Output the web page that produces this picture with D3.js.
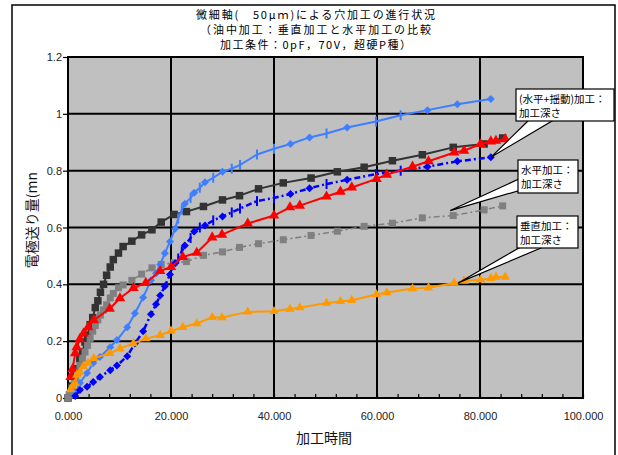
<!DOCTYPE html>
<html>
<head>
<meta charset="utf-8">
<script src="https://cdn.jsdelivr.net/npm/d3@7"></script>
<style>
  html, body { margin: 0; padding: 0; background: #fff; }
  svg { display: block; }
</style>
</head>
<body>
<svg id="chart" width="618" height="455"></svg>
<script>
// ---- Data -------------------------------------------------------------
const titleLines = [
  "微細軸(　50μｍ)による穴加工の進行状況",
  "（油中加工：垂直加工と水平加工の比較",
  "加工条件：0pF，70V，超硬P種）"
];
const xTitle = "加工時間";
const yTitle = "電極送り量(mn";

const xTicks = [0, 20, 40, 60, 80, 100];
const yTicks = [0, 0.2, 0.4, 0.6, 0.8, 1.0, 1.2];

// 垂直加工 (vertical machining)
const timeVert = [0.5, 0.9, 1.4, 1.7, 2.3, 3.0, 3.9, 5.0, 8.1, 10.1, 12.7, 15.1, 17.9, 20.0,
  22.3, 25.0, 28.0, 29.9, 34.9, 40.0, 43.1, 45.0, 50.2, 52.9, 55.1, 59.9, 61.9, 66.9, 70.0,
  75.0, 76.9, 80.1, 82.1, 83.1, 84.9];
const feedVert = [0.074, 0.102, 0.158, 0.179, 0.207, 0.227, 0.249, 0.274, 0.314, 0.351, 0.387,
  0.405, 0.447, 0.461, 0.496, 0.511, 0.565, 0.575, 0.614, 0.642, 0.671, 0.677, 0.709, 0.726,
  0.741, 0.771, 0.786, 0.814, 0.833, 0.864, 0.870, 0.894, 0.903, 0.905, 0.911];
const depthVert = [0.030, 0.042, 0.053, 0.081, 0.091, 0.112, 0.123, 0.140, 0.157, 0.174, 0.192,
  0.209, 0.221, 0.236, 0.249, 0.262, 0.284, 0.283, 0.303, 0.305, 0.313, 0.318, 0.334, 0.340,
  0.344, 0.364, 0.371, 0.385, 0.388, 0.405, 0.412, 0.416, 0.421, 0.426, 0.426];

// 水平加工 (horizontal machining)
const timeHoriz = [0, 0.3, 0.8, 1.3, 1.8, 2.3, 2.8, 3.3, 3.8, 4.3, 4.8, 5.3, 5.8, 6.3, 6.9, 7.5,
  8.2, 8.8, 9.8, 10.7, 12.4, 14.3, 16.3, 18.1, 20.6, 23.0, 26.3, 30.0, 33.3, 37.0, 41.8, 47.2,
  52.3, 57.5, 63.0, 68.8, 74.8, 80.8, 84.4];
const feedHoriz = [0, 0.012, 0.042, 0.078, 0.103, 0.138, 0.162, 0.197, 0.221, 0.258, 0.283,
  0.318, 0.342, 0.372, 0.400, 0.432, 0.461, 0.487, 0.510, 0.533, 0.552, 0.574, 0.592, 0.619,
  0.646, 0.656, 0.674, 0.697, 0.712, 0.736, 0.757, 0.774, 0.796, 0.812, 0.835, 0.856, 0.882,
  0.894, 0.915];
const depthHoriz = [0, 0.010, 0.035, 0.065, 0.090, 0.115, 0.140, 0.162, 0.185, 0.210, 0.235,
  0.255, 0.275, 0.292, 0.310, 0.328, 0.352, 0.368, 0.388, 0.398, 0.414, 0.436, 0.458, 0.470,
  0.476, 0.480, 0.502, 0.514, 0.530, 0.543, 0.557, 0.572, 0.587, 0.604, 0.615, 0.634, 0.642,
  0.662, 0.676];

// (水平+揺動)加工 (horizontal + oscillation machining)
const timeOsc = [1.4, 2.3, 3.7, 4.9, 6.2, 8.2, 9.5, 11.5, 13.0, 14.6, 16.1, 17.1, 17.9, 18.8,
  19.8, 20.8, 21.4, 22.1, 22.7, 23.8, 24.5, 25.6, 26.6, 28.2, 30.0, 31.8, 33.4, 36.7, 40.0,
  43.2, 46.9, 50.2, 54.2, 59.8, 64.6, 69.8, 75.6, 82.1];
const feedOsc = [0.018, 0.053, 0.088, 0.123, 0.144, 0.179, 0.204, 0.249, 0.298, 0.354, 0.414,
  0.439, 0.470, 0.509, 0.551, 0.596, 0.632, 0.663, 0.684, 0.704, 0.722, 0.740, 0.759, 0.775,
  0.796, 0.807, 0.820, 0.857, 0.877, 0.894, 0.917, 0.931, 0.952, 0.973, 0.995, 1.013, 1.034,
  1.052];
const depthOsc = [0.007, 0.028, 0.040, 0.056, 0.074, 0.098, 0.114, 0.147, 0.192, 0.235, 0.295,
  0.330, 0.361, 0.393, 0.435, 0.474, 0.491, 0.516, 0.537, 0.563, 0.586, 0.600, 0.607, 0.625,
  0.639, 0.653, 0.667, 0.693, 0.704, 0.718, 0.738, 0.753, 0.768, 0.788, 0.800, 0.814, 0.833,
  0.847];

const calloutTexts = [
  ["(水平+揺動)加工：", "加工深さ"],
  ["水平加工：", "加工深さ"],
  ["垂直加工：", "加工深さ"]
];

// ---- Drawing ----------------------------------------------------------
const svg = d3.select("#chart");
const plot = { left: 68, right: 583, top: 57, bottom: 398 };

const x = d3.scaleLinear().domain([0, 100]).range([plot.left, plot.right]);
const y = d3.scaleLinear().domain([0, 1.2]).range([plot.bottom, plot.top]);

const cjk = "'Noto Sans CJK JP', 'Noto Sans CJK SC', sans-serif";
const latin = "'Liberation Sans', Arial, sans-serif";

// outer frame
svg.append("rect").attr("x", 12).attr("y", 5).attr("width", 603).attr("height", 460)
  .attr("fill", "#fff").attr("stroke", "#000").attr("stroke-width", 1.5);

// title
const titleLen = [239, 231, 191];
const titleY = [19, 34, 48.5];
titleLines.forEach((t, i) => {
  svg.append("text")
    .attr("x", 315.5).attr("y", titleY[i])
    .attr("text-anchor", "middle")
    .attr("textLength", titleLen[i]).attr("lengthAdjust", "spacing")
    .attr("font-family", cjk).attr("font-size", 11).attr("fill", "#000")
    .text(t);
});

// plot background
svg.append("rect")
  .attr("x", plot.left).attr("y", plot.top)
  .attr("width", plot.right - plot.left).attr("height", plot.bottom - plot.top)
  .attr("fill", "#c0c0c0");

// gridlines
const grid = svg.append("g").attr("stroke", "#000").attr("stroke-width", 2);
xTicks.filter(d => d > 0 && d < 100).forEach(d => {
  grid.append("line").attr("x1", x(d)).attr("x2", x(d))
    .attr("y1", plot.top).attr("y2", plot.bottom);
});
yTicks.filter(d => d > 0 && d < 1.2).forEach(d => {
  grid.append("line").attr("x1", plot.left).attr("x2", plot.right)
    .attr("y1", y(d)).attr("y2", y(d));
});

// plot border
svg.append("rect")
  .attr("x", plot.left).attr("y", plot.top)
  .attr("width", plot.right - plot.left).attr("height", plot.bottom - plot.top)
  .attr("fill", "none").attr("stroke", "#000").attr("stroke-width", 2);

// minor tick marks on the bottom axis, pointing into the plot
const minorAx = svg.append("g").attr("transform", `translate(0,${plot.bottom})`)
  .call(d3.axisTop(x).tickValues(d3.range(0, 100.1, 4)).tickSize(4).tickFormat(""));
minorAx.select(".domain").remove();
minorAx.selectAll("line").attr("stroke", "#000").attr("stroke-width", 1.2);

// x axis labels
const xAx = svg.append("g").attr("transform", `translate(0,${plot.bottom})`)
  .call(d3.axisBottom(x).tickValues(xTicks).tickSize(0).tickPadding(14)
    .tickFormat(d3.format(".3f")));
xAx.select(".domain").remove();
xAx.selectAll("text").attr("font-family", latin).attr("font-size", 11).attr("fill", "#222");

// y axis
const yAx = svg.append("g").attr("transform", `translate(${plot.left},0)`)
  .call(d3.axisLeft(y).tickValues(yTicks).tickSize(5).tickPadding(1)
    .tickFormat(d3.format("~g")));
yAx.select(".domain").remove();
yAx.selectAll("line").attr("stroke", "#000").attr("stroke-width", 1.2);
yAx.selectAll("text").attr("font-family", latin).attr("font-size", 11).attr("fill", "#222");

// axis titles
svg.append("text").attr("x", 324).attr("y", 443).attr("text-anchor", "middle")
  .attr("font-family", cjk).attr("font-size", 14).attr("fill", "#111").text(xTitle);
svg.append("text").attr("transform", "translate(37,220) rotate(-90)")
  .attr("text-anchor", "middle")
  .attr("font-family", cjk).attr("font-size", 14).attr("fill", "#111").text(yTitle);

// ---- Series -----------------------------------------------------------
const zip = (ts, vs) => ts.map((t, i) => ({ t, v: vs[i], i }));
const lineGen = d3.line().x(d => x(d.t)).y(d => y(d.v));

const diamond = s => `M0,${-s}L${s},0L0,${s}L${-s},0Z`;
// points drawn with an upright bar instead of a diamond on the oscillation series
const barMarkIdx = new Set([16, 17, 19, 21, 23, 25, 26, 27, 28, 31, 33, 34]);

const series = [
  { pts: zip(timeHoriz, feedHoriz), color: "#333333", width: 2, dash: null,
    marker: "square", size: 7.5 },
  { pts: zip(timeHoriz, depthHoriz), color: "#808080", width: 1.6, dash: "6,3,2,3",
    marker: "square", size: 7 },
  { pts: zip(timeOsc, feedOsc), color: "#3f7fff", width: 2, dash: null,
    marker: "diamond", size: 4 },
  { pts: zip(timeOsc, depthOsc), color: "#0000ff", width: 2.5, dash: "6,3,2,3",
    marker: "diamond", size: 4 },
  { pts: zip(timeVert, feedVert), color: "#ff0000", width: 2, dash: null,
    marker: "triangle", size: 48 },
  { pts: zip(timeVert, depthVert), color: "#ff9900", width: 2, dash: null,
    marker: "triangle", size: 38 }
];

series.forEach(s => {
  const g = svg.append("g");
  g.append("path").datum(s.pts).attr("d", lineGen)
    .attr("fill", "none").attr("stroke", s.color).attr("stroke-width", s.width)
    .attr("stroke-dasharray", s.dash).attr("stroke-linejoin", "round");
  s.pts.forEach(p => {
    const cx = x(p.t), cy = y(p.v);
    if (s.marker === "square") {
      g.append("rect").attr("x", cx - s.size / 2).attr("y", cy - s.size / 2)
        .attr("width", s.size).attr("height", s.size).attr("fill", s.color);
    } else if (s.marker === "triangle") {
      g.append("path").attr("d", d3.symbol(d3.symbolTriangle, s.size)())
        .attr("transform", `translate(${cx},${cy})`).attr("fill", s.color);
    } else if (barMarkIdx.has(p.i)) {
      g.append("rect").attr("x", cx - 1).attr("y", cy - 5)
        .attr("width", 2).attr("height", 10).attr("fill", s.color);
    } else {
      g.append("path").attr("d", diamond(s.size))
        .attr("transform", `translate(${cx},${cy})`).attr("fill", s.color);
    }
  });
});

// ---- Callout labels ---------------------------------------------------
const callouts = [
  { box: [516, 89, 98, 32], base: [[531, 118], [557, 118]],
    tip: [x(timeOsc[timeOsc.length - 1]), y(depthOsc[depthOsc.length - 1])], lines: calloutTexts[0] },
  { box: [518, 160, 60, 33], base: [[521, 178], [521, 190]],
    tip: [x(timeHoriz[36]) - 3, y(depthHoriz[36]) - 5], lines: calloutTexts[1] },
  { box: [517, 216, 61, 32], base: [[524, 245], [548, 245]],
    tip: [x(timeVert[29]) + 4, y(depthVert[29])], lines: calloutTexts[2] }
];

callouts.forEach(c => {
  const g = svg.append("g");
  g.append("path")
    .attr("d", `M${c.base[0][0]},${c.base[0][1]}L${c.tip[0]},${c.tip[1]}L${c.base[1][0]},${c.base[1][1]}Z`)
    .attr("fill", "#fff").attr("stroke", "#000").attr("stroke-width", 1.2);
  const [bx, by, bw, bh] = c.box;
  g.append("rect").attr("x", bx).attr("y", by).attr("width", bw).attr("height", bh)
    .attr("fill", "#fff").attr("stroke", "#000").attr("stroke-width", 1.2);
  c.lines.forEach((t, i) => {
    g.append("text").attr("x", bx + 3).attr("y", by + 14 + i * 13.5)
      .attr("font-family", cjk).attr("font-size", 10.5).attr("fill", "#000").text(t);
  });
});
</script>
</body>
</html>
